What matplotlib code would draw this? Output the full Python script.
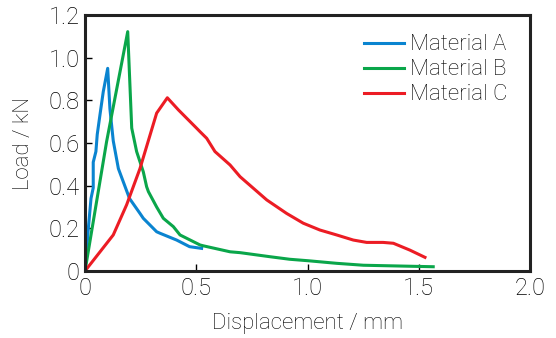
import matplotlib
matplotlib.use("Agg")
import matplotlib.pyplot as plt

plt.rcParams['font.family'] = ['Roboto', 'DejaVu Sans']
plt.rcParams['font.weight'] = 'light'
plt.rcParams['axes.labelweight'] = 'light'

# Material A
a_x = [0, 0.015, 0.027, 0.037, 0.037, 0.049, 0.055, 0.067, 0.082, 0.102,
       0.112, 0.127, 0.15, 0.2, 0.247, 0.262, 0.322, 0.337, 0.412, 0.47, 0.524]
a_y = [0, 0.2, 0.34, 0.39, 0.51, 0.56, 0.64, 0.73, 0.84, 0.95,
       0.76, 0.61, 0.48, 0.34, 0.27, 0.247, 0.184, 0.177, 0.145, 0.114, 0.106]
# Material B
b_x = [0, 0.097, 0.192, 0.2, 0.21, 0.232, 0.262, 0.277, 0.285, 0.322, 0.352,
       0.397, 0.427, 0.517, 0.532, 0.652, 0.697, 0.831, 0.92, 1.004, 1.131,
       1.251, 1.43, 1.565]
b_y = [0, 0.606, 1.122, 0.92, 0.67, 0.56, 0.465, 0.395, 0.372, 0.30, 0.247,
       0.208, 0.169, 0.122, 0.118, 0.09, 0.086, 0.067, 0.055, 0.048, 0.036,
       0.027, 0.023, 0.02]
# Material C
c_x = [0, 0.127, 0.187, 0.247, 0.322, 0.37, 0.42, 0.502, 0.517, 0.547, 0.584,
       0.652, 0.697, 0.817, 0.906, 0.981, 1.056, 1.131, 1.206, 1.266, 1.34,
       1.386, 1.46, 1.528]
c_y = [0, 0.169, 0.31, 0.48, 0.74, 0.812, 0.755, 0.669, 0.653, 0.622, 0.56,
       0.497, 0.442, 0.333, 0.27, 0.224, 0.192, 0.169, 0.145, 0.134, 0.134,
       0.13, 0.098, 0.064]

labels = ['Material A', 'Material B', 'Material C']
colors = ['#0a84d0', '#0aa64a', '#ec1c24']

fig = plt.figure(figsize=(5.56, 3.38), dpi=100)
ax = fig.add_axes([85/556, 1-271/338, 445/556, 256/338])
for x, y, lab, c in zip([a_x, b_x, c_x], [a_y, b_y, c_y], labels, colors):
    ax.plot(x, y, color=c, lw=2.2, label=lab, solid_joinstyle='round')

ax.set_xlim(0, 2.0)
ax.set_ylim(0, 1.2)
ax.set_xticks([0, 0.5, 1.0, 1.5, 2.0])
ax.set_xticklabels(['0', '0.5', '1.0', '1.5', '2.0'])
ax.set_yticks([0, 0.2, 0.4, 0.6, 0.8, 1.0, 1.2])
ax.set_yticklabels(['0', '0.2', '0.4', '0.6', '0.8', '1.0', '1.2'])
ax.tick_params(direction='in', length=5, width=1, labelsize=17, colors='#000000', pad=4)
for s in ax.spines.values():
    s.set_linewidth(2.2)
    s.set_color('#222222')
ax.set_xlabel('Displacement / mm', fontsize=16, color='#000000', labelpad=10)
ax.set_ylabel('Load / kN', fontsize=16, color='#000000', labelpad=10)
leg = ax.legend(loc='upper right', frameon=False, fontsize=16, handlelength=1.8,
                handletextpad=0.3, labelspacing=0.18, borderaxespad=0.3,
                bbox_to_anchor=(0.985, 0.985))
for t in leg.get_texts():
    t.set_color('#000000')
fig.savefig('out.png', dpi=100)
